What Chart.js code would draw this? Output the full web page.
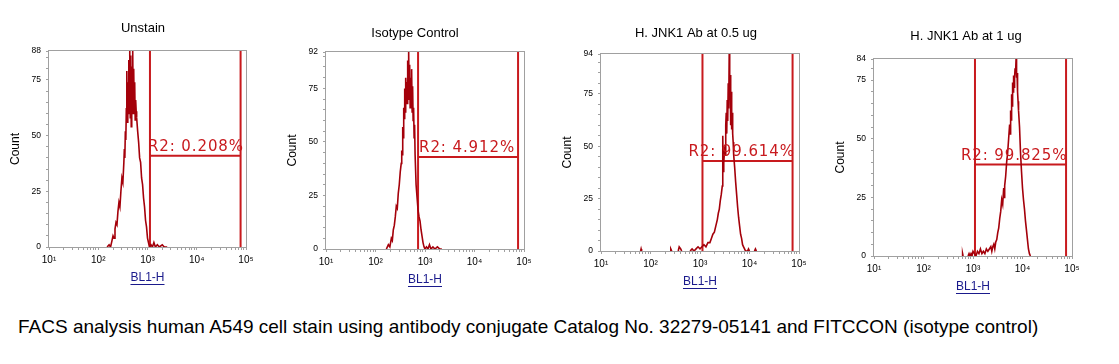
<!DOCTYPE html>
<html><head><meta charset="utf-8">
<script src="https://cdn.jsdelivr.net/npm/chart.js@4.4.0/dist/chart.umd.min.js"></script>
<style>
html,body{margin:0;padding:0;background:#fff;width:1119px;height:364px;overflow:hidden;position:relative;font-family:"Liberation Sans",Arial,sans-serif}
.pane{position:absolute}
#caption{position:absolute;left:18px;top:316px;font-size:19px;line-height:22px;white-space:nowrap;color:#000}
</style></head><body>
<div id="caption"></div>
<script>
// ---------------- DATA ----------------
const panelTitles = ['Unstain', 'Isotype Control', 'H. JNK1 Ab at 0.5 ug', 'H. JNK1 Ab at 1 ug'];
const yMax = [88, 92, 94, 84];
const yTickLabeled = [0, 25, 50, 75];
const xTickExp = [1, 2, 3, 4, 5];
const xTickLabels = ['10\u00b9', '10\u00b2', '10\u00b3', '10\u2074', '10\u2075'];
const xTitle = 'BL1-H';
const yTitle = 'Count';
// gate R2 (log10 of BL1-H for bounds, count for marker level)
const gateLow = [3.05, 2.86, 3.05, 3.04];
const gateHigh = [4.89, 4.88, 4.87, 4.88];
const gateLevel = [41, 43, 43, 39];
const gateText = ['R2: 0.208%', 'R2: 4.912%', 'R2: 99.614%', 'R2: 99.825%'];
const captionText = 'FACS analysis human A549 cell stain using antibody conjugate Catalog No. 32279-05141 and FITCCON (isotype control)';

// histograms: bin position as log10(BL1-H), counts
const unstainLog = [2.18,2.22,2.25,2.28,2.30,2.32,2.34,2.36,2.38,2.40,2.42,2.44,2.46,2.48,2.50,2.52,2.53,2.54,2.55,2.56,2.57,2.58,2.59,2.60,2.61,2.62,2.63,2.64,2.65,2.66,2.67,2.68,2.69,2.70,2.71,2.72,2.73,2.74,2.75,2.76,2.77,2.78,2.80,2.82,2.84,2.86,2.88,2.90,2.92,2.94,2.96,2.98,3.00,3.02,3.04,3.07,3.10,3.13,3.16,3.20,3.24,3.30,3.34,3.40];
const unstainCount = [0,1,0,3,5,4,8,11,10,16,20,18,25,31,29,38,44,40,52,48,62,79,56,74,60,84,63,88,58,86,54,81,66,88,60,80,62,74,57,66,61,58,52,47,40,38,31,28,22,18,12,9,4,2,0,1,0,2,0,1,0,1,0,0];

const isotypeLog = [2.22,2.26,2.29,2.32,2.34,2.36,2.38,2.40,2.42,2.44,2.46,2.48,2.50,2.52,2.53,2.54,2.55,2.56,2.57,2.58,2.59,2.60,2.61,2.62,2.63,2.64,2.65,2.66,2.67,2.68,2.69,2.70,2.71,2.72,2.73,2.74,2.75,2.76,2.77,2.78,2.79,2.80,2.82,2.84,2.86,2.88,2.90,2.92,2.94,2.96,2.98,3.00,3.03,3.06,3.09,3.12,3.16,3.20,3.25,3.30,3.34];
const isotypeCount = [0,2,1,5,4,9,11,15,20,19,26,30,36,40,46,44,57,52,66,61,75,64,80,70,78,68,88,74,92,70,86,66,80,72,84,64,76,60,66,52,58,44,30,24,18,15,13,9,6,3,1,0,1,0,2,0,1,0,1,0,0];

const jnkHalfLog = [1.80,1.81,1.82,1.83,2.40,2.41,2.43,2.44,2.56,2.58,2.61,2.63,2.64,2.80,2.84,2.88,2.92,2.96,3.00,3.04,3.08,3.12,3.16,3.20,3.23,3.26,3.29,3.32,3.35,3.37,3.39,3.41,3.43,3.45,3.46,3.47,3.48,3.50,3.51,3.52,3.53,3.54,3.55,3.56,3.57,3.58,3.59,3.60,3.61,3.62,3.63,3.64,3.65,3.66,3.67,3.68,3.70,3.72,3.74,3.76,3.78,3.80,3.82,3.84,3.86,3.88,3.90,3.92,3.96,3.98,4.00,4.01,4.10,4.12,4.14];
const jnkHalfCount = [0,1,0,null,0,1,0,null,0,2,1,0,null,0,1,0,1,2,1,2,3,2,4,4,6,8,9,12,15,18,20,24,27,31,55,38,42,50,46,60,66,56,72,62,80,68,94,72,84,60,76,58,66,56,52,46,40,33,27,21,16,12,8,6,3,2,1,0,0,1,0,null,0,1,0];

const jnkOneLog = [2.78,2.79,2.80,2.81,2.90,2.92,2.94,2.96,2.98,3.00,3.03,3.06,3.09,3.12,3.15,3.18,3.21,3.24,3.27,3.30,3.33,3.36,3.38,3.40,3.42,3.44,3.46,3.48,3.50,3.52,3.54,3.56,3.58,3.60,3.62,3.63,3.64,3.66,3.68,3.70,3.72,3.74,3.75,3.76,3.77,3.78,3.79,3.80,3.81,3.82,3.83,3.84,3.85,3.86,3.87,3.88,3.89,3.90,3.91,3.92,3.94,3.96,3.98,4.00,4.02,4.04,4.06,4.08,4.10,4.12,4.14,4.16];
const jnkOneCount = [0,1,0,null,0,1,0,1,0,2,1,0,2,1,3,1,2,1,3,2,3,4,2,4,5,3,6,7,10,12,16,19,24,22,29,25,30,34,40,44,50,56,52,62,58,69,64,74,70,77,72,76,80,78,84,76,78,70,66,62,55,44,36,29,24,20,15,11,7,3,1,0];

const histLog = [unstainLog, isotypeLog, jnkHalfLog, jnkOneLog];
const histCount = [unstainCount, isotypeCount, jnkHalfCount, jnkOneCount];

// ---------------- LAYOUT / STYLE ----------------
const FAMILY = '"Liberation Sans", Arial, sans-serif';
const plotBoxes = [
  {l:49,  r:246,  t:51, b:247, tx:143, ty:29},
  {l:326, r:524,  t:52, b:249, tx:415, ty:34},
  {l:601, r:799,  t:54, b:251, tx:696, ty:34},
  {l:874, r:1072, t:59, b:256, tx:966, ty:37}
];
const labelDx = [-2, 1, -14, -14];
const WY = 44, HX = 40, PADR = 10, TFS = 13, TLH = 1.2;
const HIST_COLOR = '#a4000a', GATE_COLOR = '#c81a1e', AXIS_COLOR = '#a0a0a0';

document.getElementById('caption').textContent = captionText;
Chart.defaults.font.family = FAMILY;

const framePlugin = {
  id: 'frame',
  beforeDatasetsDraw(chart) {
    const {ctx, chartArea: a} = chart;
    ctx.save();
    ctx.strokeStyle = AXIS_COLOR; ctx.lineWidth = 1;
    ctx.strokeRect(a.left - 0.5, a.top - 0.5, a.right - a.left + 1, a.bottom - a.top + 1);
    ctx.restore();
  }
};
const gateLabelPlugin = {
  id: 'gateLabel',
  afterDatasetsDraw(chart, args, opts) {
    const {ctx} = chart;
    const xs = chart.scales.x, ys = chart.scales.y;
    ctx.save();
    ctx.font = '15px "DejaVu Sans", Verdana, sans-serif';
    try { ctx.letterSpacing = '0.9px'; } catch(e) {}
    ctx.fillStyle = GATE_COLOR;
    ctx.textBaseline = 'alphabetic';
    ctx.textAlign = 'left';
    ctx.fillText(opts.text, xs.getPixelForValue(opts.x) + opts.dx, ys.getPixelForValue(opts.y) - 5);
    ctx.restore();
  }
};
const underlinePlugin = {
  id: 'underlineX',
  afterDraw(chart) {
    const {ctx} = chart; const xs = chart.scales.x;
    const t = xs.options.title;
    ctx.save();
    ctx.font = '12px ' + FAMILY;
    const w = ctx.measureText(t.text).width;
    const cxp = (xs.left + xs.right) / 2;
    const cyp = xs.bottom - 2 - 12 * 1.2 / 2;
    ctx.strokeStyle = t.color; ctx.lineWidth = 1;
    ctx.beginPath();
    ctx.moveTo(cxp - w / 2, Math.round(cyp + 6) + 0.5);
    ctx.lineTo(cxp + w / 2, Math.round(cyp + 6) + 0.5);
    ctx.stroke();
    ctx.restore();
  }
};

const xMinorTicks = [];
for (let n = 1; n <= 4; n++) for (let k = 1; k <= 9; k++) xMinorTicks.push(n + Math.log10(k));
xMinorTicks.push(5);

plotBoxes.forEach((pb, i) => {
  const w2 = Math.round(2 * (pb.tx - (pb.l + pb.r) / 2) + WY);
  const cx = pb.l - WY, cy = Math.round(pb.ty - TFS * TLH / 2);
  const cw = pb.r + w2 + PADR - cx, ch = pb.b + HX - cy;
  const titlePadBottom = pb.t - cy - TFS * TLH;
  const div = document.createElement('div');
  div.className = 'pane';
  Object.assign(div.style, {left: cx + 'px', top: cy + 'px', width: cw + 'px', height: ch + 'px'});
  const cv = document.createElement('canvas');
  div.appendChild(cv); document.body.appendChild(div);

  const hist = histLog[i].map((v, k) => ({x: v, y: histCount[i][k]}));
  const gl = gateLow[i], gh = gateHigh[i], lv = gateLevel[i], ym = yMax[i];
  const gate = [
    {x: gl, y: 0}, {x: gl, y: ym}, {x: gl, y: null},
    {x: gh, y: 0}, {x: gh, y: ym}, {x: gh, y: null},
    {x: gl, y: lv}, {x: gh, y: lv}
  ];
  const yTicks = [];
  for (let v = 0; v < ym; v += 5) yTicks.push(v);
  yTicks.push(ym);

  new Chart(cv, {
    type: 'line',
    data: {datasets: [
      {data: hist, borderColor: HIST_COLOR, borderWidth: 1.6, pointRadius: 0, tension: 0, spanGaps: false, xAxisID: 'x', yAxisID: 'y'},
      {data: gate, borderColor: GATE_COLOR, borderWidth: 2, pointRadius: 0, tension: 0, spanGaps: false, xAxisID: 'x', yAxisID: 'y'}
    ]},
    options: {
      responsive: true, maintainAspectRatio: false, animation: false, devicePixelRatio: 1,
      layout: {padding: {left: 0, right: PADR, top: 0, bottom: 0}},
      events: [],
      plugins: {
        legend: {display: false}, tooltip: {enabled: false},
        title: {display: true, text: panelTitles[i], color: '#000', font: {size: TFS, weight: 'normal', lineHeight: TLH}, padding: {top: 0, bottom: titlePadBottom}},
        gateLabel: {text: gateText[i], x: gl, y: lv, dx: labelDx[i]}
      },
      scales: {
        x: {
          type: 'linear', position: 'bottom', min: 1, max: 5,
          afterBuildTicks(s) { s.ticks = xMinorTicks.map(v => ({value: v})); },
          afterFit(s) { s.height = HX; },
          ticks: {autoSkip: false, maxRotation: 0, minRotation: 0, padding: 4, color: '#000', font: {size: 10},
            callback(v) { const k = xTickExp.indexOf(v); return k >= 0 ? xTickLabels[k] : ''; }},
          grid: {drawOnChartArea: false, drawTicks: true, tickLength: 3, color: AXIS_COLOR},
          border: {display: false},
          title: {display: true, text: xTitle, color: '#1a1a8c', font: {size: 12, lineHeight: 1.2}, padding: {top: 0, bottom: 2}}
        },
        y: {
          type: 'linear', position: 'left', min: 0, max: ym,
          afterBuildTicks(s) { s.ticks = yTicks.map(v => ({value: v})); },
          afterFit(s) { s.width = WY; },
          ticks: {autoSkip: false, padding: 5, color: '#000', font: {size: 8.5},
            callback(v) { return (yTickLabeled.includes(v) || v === ym) ? String(v) : ''; }},
          grid: {drawOnChartArea: false, drawTicks: true, tickLength: 3, color: AXIS_COLOR},
          border: {display: false},
          title: {display: true, text: yTitle, color: '#000', font: {size: 12, lineHeight: 1.2}, padding: {top: 3, bottom: 0}}
        },
        yr: {
          type: 'linear', position: 'right', display: true,
          afterFit(s) { s.width = w2; },
          ticks: {display: false}, grid: {display: false}, border: {display: false}
        }
      }
    },
    plugins: [framePlugin, gateLabelPlugin, underlinePlugin]
  });
});
</script>
</body></html>
